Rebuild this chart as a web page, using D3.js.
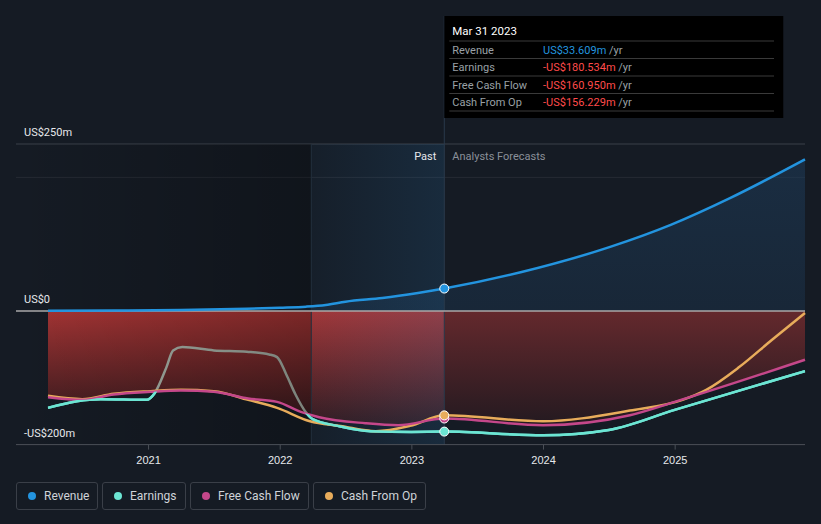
<!DOCTYPE html>
<html><head><meta charset="utf-8">
<script src="https://cdn.jsdelivr.net/npm/d3@7"></script>
<style>
html,body{margin:0;padding:0;background:#151b24;}
svg{display:block;font-family:Roboto,"Noto Sans",sans-serif;}
</style></head>
<body><svg id="c" width="821" height="524"></svg>
<script>
// ---- data (time in decimal years, values in US$ millions) ----
const revenue = [[2020.24,0.5],[2020.75,0.8],[2021.25,1.5],[2021.75,3.5],[2022.0,5],[2022.2,6.5],[2022.35,9],[2022.5,14],[2022.78,19.5],[2023.05,27],[2023.25,33.609],[2023.83,58],[2024.51,96],[2024.97,129],[2025.42,169],[2025.99,227]];
const earnings = [[2020.24,-145],[2020.46,-135],[2020.64,-132],[2020.99,-133],[2021.05,-123],[2021.14,-84],[2021.19,-59],[2021.26,-54],[2021.5,-59],[2021.75,-61],[2021.92,-65],[2021.98,-69],[2022.05,-95],[2022.12,-125],[2022.2,-152],[2022.25,-162],[2022.44,-172],[2022.69,-180],[2023.0,-181],[2023.25,-180.534],[2024.0,-186],[2024.5,-178],[2025.0,-148],[2025.99,-90]];
const freeCashFlow = [[2020.24,-129],[2020.5,-133],[2020.74,-125],[2021.02,-121],[2021.25,-119],[2021.5,-121],[2021.76,-131],[2021.98,-136],[2022.16,-151],[2022.3,-159],[2022.65,-168],[2022.9,-171],[2023.25,-160.95],[2024.0,-171],[2024.66,-156],[2025.0,-136],[2025.99,-73]];
const cashFromOp = [[2020.24,-127],[2020.5,-132],[2020.74,-124],[2021.02,-120],[2021.25,-118],[2021.5,-120],[2021.76,-133],[2021.98,-145],[2022.23,-165],[2022.46,-172],[2022.73,-180],[2022.99,-172],[2023.25,-156.229],[2024.0,-165],[2024.66,-149],[2025.06,-133],[2025.24,-118],[2025.49,-84],[2025.74,-43],[2025.99,-3]];
const yearTicks = [2021,2022,2023,2024,2025];
const yTicks = [250,0,-200];
const yTickLabels = ["US$250m","US$0","-US$200m"];
const seriesNames = ["Revenue","Earnings","Free Cash Flow","Cash From Op"];
const seriesColors = ["#2394df","#6ce5d3","#c4478a","#e8ac5b"];
const tooltipDate = "Mar 31 2023";
const tooltipValues = ["US$33.609m","-US$180.534m","-US$160.950m","-US$156.229m"];
const nowT = 2023.25, pastStartT = 2022.24;

const svg = d3.select("#c");
const x = d3.scaleLinear().domain([2020.24, 2025.99]).range([48, 805]);
const y = d3.scaleLinear().domain([-200, 250]).range([444.6, 144]);
const L = 16, R = 805;
const xNow = x(nowT), xPast = x(pastStartT);

const defs = svg.append("defs");
const rg = defs.append("linearGradient").attr("id","redG").attr("gradientUnits","userSpaceOnUse")
  .attr("x1",0).attr("x2",0).attr("y1",y(0)).attr("y2",y(-200));
rg.append("stop").attr("offset",0).attr("stop-color","#a53434");
rg.append("stop").attr("offset",1).attr("stop-color","#1c1419");
const bg = defs.append("linearGradient").attr("id","blueG").attr("gradientUnits","userSpaceOnUse")
  .attr("x1",0).attr("x2",0).attr("y1",y(250)).attr("y2",y(0));
bg.append("stop").attr("offset",0).attr("stop-color","#1e3d5c").attr("stop-opacity",0.55);
bg.append("stop").attr("offset",1).attr("stop-color","#1e3d5c").attr("stop-opacity",0.35);
const dg = defs.append("linearGradient").attr("id","darkG").attr("x1",0).attr("x2",1).attr("y1",0).attr("y2",0);
dg.append("stop").attr("offset",0).attr("stop-color","#000").attr("stop-opacity",0);
dg.append("stop").attr("offset",1).attr("stop-color","#000").attr("stop-opacity",0.25);
const pg = defs.append("linearGradient").attr("id","pastG").attr("x1",0).attr("x2",1).attr("y1",0).attr("y2",0);
pg.append("stop").attr("offset",0).attr("stop-color","#2a7ab8").attr("stop-opacity",0.04);
pg.append("stop").attr("offset",1).attr("stop-color","#2a7ab8").attr("stop-opacity",0.17);
defs.append("clipPath").attr("id","clipPast").append("rect").attr("x",0).attr("y",0).attr("width",xNow).attr("height",524);
defs.append("clipPath").attr("id","clipFut").append("rect").attr("x",xNow).attr("y",0).attr("width",821-xNow).attr("height",524);

const curve = d3.curveMonotoneX;
const line = d3.line().x(d=>x(d[0])).y(d=>y(d[1])).curve(curve);
const area0 = d3.area().x(d=>x(d[0])).y0(y(0)).y1(d=>y(d[1])).curve(curve);

// gridlines
svg.append("line").attr("x1",L).attr("x2",R).attr("y1",y(250)).attr("y2",y(250)).attr("stroke","#3b4049").attr("stroke-width",1);
svg.append("line").attr("x1",L).attr("x2",R).attr("y1",y(200)).attr("y2",y(200)).attr("stroke","#262b34").attr("stroke-width",1);

// revenue area
svg.append("path").datum(revenue).attr("d",area0).attr("fill","url(#blueG)");

// earnings line (under red area)
svg.append("path").datum(earnings).attr("d",line).attr("fill","none").attr("stroke",seriesColors[1]).attr("stroke-width",2.5);

// red area (0 to free cash flow)
const redArea = area0(freeCashFlow);
defs.append("clipPath").attr("id","clipRed").append("path").attr("d",redArea);
svg.append("path").attr("d",redArea).attr("fill","url(#redG)").attr("clip-path","url(#clipPast)");
svg.append("path").attr("d",redArea).attr("fill","url(#redG)").attr("opacity",0.55).attr("clip-path","url(#clipFut)");
// earnings inside red area shown grey
svg.append("g").attr("clip-path","url(#clipRed)").append("path").datum(earnings).attr("d",line)
  .attr("fill","none").attr("stroke","#a3ada3").attr("stroke-width",2.5);

// overlays
svg.append("rect").attr("x",L).attr("y",y(250)).attr("width",xPast-L).attr("height",y(-200)-y(250)).attr("fill","url(#darkG)");
svg.append("rect").attr("x",xPast).attr("y",y(250)).attr("width",xNow-xPast).attr("height",y(-200)-y(250)).attr("fill","url(#pastG)");
svg.append("line").attr("x1",xPast).attr("x2",xPast).attr("y1",y(250)).attr("y2",y(-200)).attr("stroke","#22303e").attr("stroke-width",1);
svg.append("line").attr("x1",xNow).attr("x2",xNow).attr("y1",16).attr("y2",y(-200)).attr("stroke","#2a3a4c").attr("stroke-width",1);

// zero line
svg.append("line").attr("x1",L).attr("x2",R).attr("y1",y(0)).attr("y2",y(0)).attr("stroke","#a9a9a9").attr("stroke-width",1.5);

// lines
[[revenue,0],[cashFromOp,3],[freeCashFlow,2]].forEach(([d,i])=>{
  svg.append("path").datum(d).attr("d",line).attr("fill","none").attr("stroke",seriesColors[i]).attr("stroke-width",2.5);
});
// earnings segments below the FCF line shown teal on top
defs.append("clipPath").attr("id","clipBelow").append("path")
  .attr("d", d3.area().x(d=>x(d[0])).y0(y(-200)+10).y1(d=>y(d[1])).curve(curve)(freeCashFlow));
svg.append("g").attr("clip-path","url(#clipBelow)").append("path").datum(earnings).attr("d",line)
  .attr("fill","none").attr("stroke",seriesColors[1]).attr("stroke-width",2.5);

// axis
svg.append("line").attr("x1",L).attr("x2",R).attr("y1",y(-200)).attr("y2",y(-200)).attr("stroke","#4a4f57").attr("stroke-width",1);
const xa = svg.append("g").attr("transform",`translate(0,${y(-200)})`)
  .call(d3.axisBottom(x).tickValues(yearTicks).tickFormat(d3.format("d")).tickSize(5).tickSizeOuter(0));
xa.select(".domain").remove();
xa.selectAll(".tick line").attr("stroke","#4a4f57");
xa.selectAll(".tick text").attr("fill","#e6e8eb").attr("font-size",11).attr("dy","1.05em");

yTicks.forEach((v,i)=>{
  svg.append("text").attr("x",24).attr("y",y(v)-8).attr("fill","#e6e8eb").attr("font-size",11).text(yTickLabels[i]);
});

// Past / forecast labels
svg.append("text").attr("x",xNow-8).attr("y",160).attr("text-anchor","end").attr("fill","#e6e8eb").attr("font-size",11).text("Past");
svg.append("text").attr("x",xNow+8).attr("y",160).attr("fill","#8a9099").attr("font-size",11).text("Analysts Forecasts");

// dots
[[revenue,0],[earnings,1],[freeCashFlow,2],[cashFromOp,3]].forEach(([d,i])=>{
  const p = d.find(q=>q[0]===nowT);
  svg.append("circle").attr("cx",x(p[0])).attr("cy",y(p[1])).attr("r",4.5).attr("fill",seriesColors[i]).attr("stroke","#fff").attr("stroke-width",1);
});

// tooltip
const tt = svg.append("g");
tt.append("rect").attr("x",xNow).attr("y",16).attr("width",339).attr("height",102).attr("fill","#000");
tt.append("text").attr("x",xNow+8).attr("y",35).attr("fill","#fff").attr("font-size",11.5).text(tooltipDate);
const rowY0 = 41, rowH = 17.5;
for(let i=0;i<=4;i++){
  tt.append("line").attr("x1",xNow+5).attr("x2",774).attr("y1",rowY0+i*rowH).attr("y2",rowY0+i*rowH).attr("stroke","#3a3a3a");
}
seriesNames.forEach((n,i)=>{
  const yy = rowY0 + i*rowH + 12.5;
  tt.append("text").attr("x",xNow+8).attr("y",yy).attr("fill","#9aa0a6").attr("font-size",11).text(n);
  const t = tt.append("text").attr("x",543).attr("y",yy).attr("font-size",11);
  t.append("tspan").attr("fill", i===0 ? "#2394df" : "#ff4b4b").text(tooltipValues[i]);
  t.append("tspan").attr("fill","#9aa0a6").text(" /yr");
});

// legend
const lg = svg.append("g");
let lx = 16;
seriesNames.forEach((n,i)=>{
  const g = lg.append("g");
  const tx = g.append("text").attr("x",lx+28).attr("y",500).attr("fill","#cfd3d8").attr("font-size",12).text(n);
  const w = Math.round(tx.node().getComputedTextLength() + 36);
  g.insert("rect","text").attr("x",lx+0.5).attr("y",482.5).attr("width",w).attr("height",27).attr("rx",2.5)
    .attr("fill","none").attr("stroke","#3a3f48");
  g.append("circle").attr("cx",lx+16).attr("cy",496).attr("r",4).attr("fill",seriesColors[i]);
  lx += w + 5;
});
</script></body></html>
